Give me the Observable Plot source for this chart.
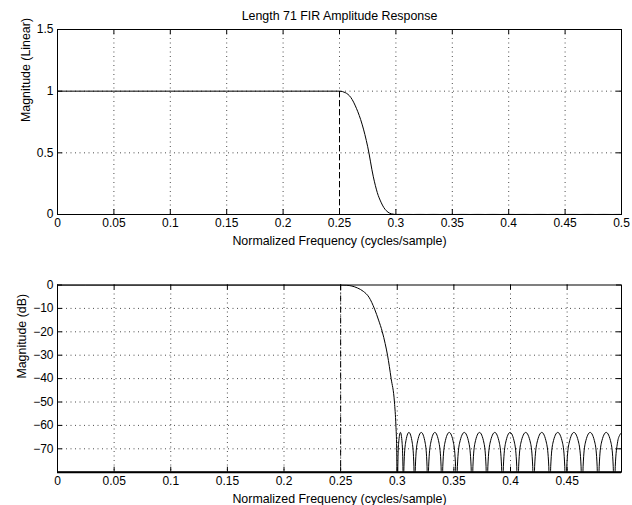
<!DOCTYPE html>
<html>
<head>
<meta charset="utf-8">
<script src="https://cdn.jsdelivr.net/npm/d3@7"></script>
<script src="https://cdn.jsdelivr.net/npm/@observablehq/plot@0.6"></script>
<style>
  body { margin: 0; background: #fff; }
  #chart { width: 632px; height: 505px; font-family: "Liberation Sans", Arial, Helvetica, sans-serif; }
  #chart svg { display: block; }
</style>
</head>
<body>
<div id="chart"></div>
<script>
// Amplitude response of a length-71 lowpass FIR filter (frequency in cycles/sample, magnitude in dB)
const passbandEdge = 0.25;

const passFreq = [0, 0.05, 0.1, 0.15, 0.2, 0.25];
const passDb   = [0, 0, 0, 0, 0, 0];

const transFreq = [0.255, 0.26, 0.265, 0.27, 0.275, 0.28, 0.2835, 0.2868, 0.2893, 0.2914, 0.2946, 0.2975, 0.2988, 0.2995];
const transDb   = [-0.1, -0.45, -1.3, -2.7, -5.2, -10.3, -15, -20, -25, -30, -40, -50, -60, -70];

const stopFreq = [
  0.3002, 0.3005, 0.3012, 0.3028, 0.3043, 0.3050,
  0.3053, 0.3059, 0.3073, 0.3103, 0.3133, 0.3147,
  0.3153, 0.3160, 0.3176, 0.3212, 0.3247, 0.3263,
  0.3270, 0.3277, 0.3295, 0.3332, 0.3369, 0.3387,
  0.3394, 0.3402, 0.3420, 0.3459, 0.3497, 0.3515,
  0.3523, 0.3531, 0.3550, 0.3592, 0.3633, 0.3652,
  0.3660, 0.3668, 0.3686, 0.3726, 0.3766, 0.3784,
  0.3792, 0.3800, 0.3819, 0.3861, 0.3902, 0.3921,
  0.3929, 0.3937, 0.3956, 0.3996, 0.4036, 0.4055,
  0.4063, 0.4072, 0.4091, 0.4134, 0.4177, 0.4196,
  0.4205, 0.4213, 0.4233, 0.4276, 0.4318, 0.4338,
  0.4346, 0.4355, 0.4374, 0.4417, 0.4460, 0.4479,
  0.4488, 0.4497, 0.4517, 0.4560, 0.4603, 0.4623,
  0.4632, 0.4641, 0.4660, 0.4703, 0.4746, 0.4765,
  0.4774, 0.4783, 0.4802, 0.4845, 0.4888, 0.4907,
  0.4916, 0.4925, 0.4944, 0.4966, 0.4987
];
const stopDb = [
  -100, -77.5, -67.6, -63, -67.6, -77.5,
  -100, -77.5, -67.6, -63, -67.6, -77.5,
  -100, -77.5, -67.6, -63, -67.6, -77.5,
  -100, -77.5, -67.6, -63, -67.6, -77.5,
  -100, -77.5, -67.6, -63, -67.6, -77.5,
  -100, -77.5, -67.6, -63, -67.6, -77.5,
  -100, -77.5, -67.6, -63, -67.6, -77.5,
  -100, -77.5, -67.6, -63, -67.6, -77.5,
  -100, -77.5, -67.6, -63, -67.6, -77.5,
  -100, -77.5, -67.6, -63, -67.6, -77.5,
  -100, -77.5, -67.6, -63, -67.6, -77.5,
  -100, -77.5, -67.6, -63, -67.6, -77.5,
  -100, -77.5, -67.6, -63, -67.6, -77.5,
  -100, -77.5, -67.6, -63, -67.6, -77.5,
  -100, -77.5, -67.6, -63, -67.6, -77.5,
  -100, -77.5, -67.6, -64, -63
];

const xTicksTop    = [0, 0.05, 0.1, 0.15, 0.2, 0.25, 0.3, 0.35, 0.4, 0.45, 0.5];
const xTicksBottom = [0, 0.05, 0.1, 0.15, 0.2, 0.25, 0.3, 0.35, 0.4, 0.45];
const yTicksLinear = [0, 0.5, 1, 1.5];
const yTicksDb     = [0, -10, -20, -30, -40, -50, -60, -70];

const titleText    = "Length 71 FIR Amplitude Response";
const xLabelText   = "Normalized Frequency (cycles/sample)";
const yLabelLinear = "Magnitude (Linear)";
const yLabelDb     = "Magnitude (dB)";

// Build one table; the linear panel shows the same response as |H| = 10^(dB/20)
const freq = [...passFreq, ...transFreq, ...stopFreq];
const db   = [...passDb, ...transDb, ...stopDb];
const response = freq.map((f, i) => ({ f, db: db[i], lin: Math.pow(10, db[i] / 20) }));

const font = '"Liberation Sans", Arial, Helvetica, sans-serif';
const minusFormat = d => (d < 0 ? "\u2212" + Math.abs(d) : String(d));
const grid = { stroke: "#000", strokeOpacity: 0.7, strokeWidth: 1, strokeDasharray: "1,3.5" };
const W = 632, ML = 57, MR = 11;
const frameW = W - ML - MR;
const tickLen = 5;

function panel({ height, marginTop, marginBottom, xDomain, yDomain, xTicks, yTicks, yFormat,
                 yKey, yLabel, yLabelDx, edgeRule, edgeDash, title, bottomWidth }) {
  const frameH = height - marginTop - marginBottom;
  const xGrid = xTicks.filter(t => t > xDomain[0] && t < xDomain[1]);
  const yGrid = yTicks.filter(t => t > yDomain[0] && t < yDomain[1]);
  const marks = [
    Plot.ruleX(xGrid, grid),
    Plot.ruleY(yGrid, grid),
    edgeRule,
    Plot.line(response, { x: "f", y: yKey, stroke: "#000", strokeWidth: 1, curve: "monotone-x", clip: true }),
    Plot.frame({ stroke: "#000", strokeWidth: 1 }),
    // inward ticks on all four sides
    Plot.ruleX(xTicks, { insetTop: frameH - tickLen, stroke: "#000" }),
    Plot.ruleX(xTicks, { insetBottom: frameH - tickLen, stroke: "#000" }),
    Plot.ruleY(yTicks, { insetLeft: frameW - tickLen, stroke: "#000" }),
    Plot.ruleY(yTicks, { insetRight: frameW - tickLen, stroke: "#000" }),
    Plot.axisX(xTicks, { tickSize: 0, tickPadding: 4, tickFormat: d => String(d), label: null, fontSize: 12 }),
    Plot.axisY(yTicks, { tickSize: 0, tickPadding: 4, tickFormat: yFormat, label: null, fontSize: 12 }),
    Plot.text([xLabelText], { frameAnchor: "bottom", dy: 27, lineAnchor: "middle", text: d => d, fontSize: 12.4 }),
    Plot.text([yLabel], { frameAnchor: "left", dx: yLabelDx, rotate: -90, lineAnchor: "middle", text: d => d, fontSize: 12.4 })
  ];
  if (bottomWidth) marks.push(Plot.ruleY([yDomain[0]], { stroke: "#000", strokeWidth: bottomWidth }));
  if (title) marks.push(Plot.text([title], { frameAnchor: "top", dy: -13.5, lineAnchor: "middle", text: d => d, fontSize: 12.4 }));
  return Plot.plot({
    width: W, height, marginTop, marginBottom, marginLeft: ML, marginRight: MR,
    style: { fontFamily: font, fontSize: "12px", background: "#fff", color: "#000", overflow: "visible" },
    x: { domain: xDomain },
    y: { domain: yDomain },
    marks
  });
}

const topPanel = panel({
  height: 250, marginTop: 29, marginBottom: 36,
  xDomain: [0, 0.5], yDomain: [0, 1.5],
  xTicks: xTicksTop, yTicks: yTicksLinear, yFormat: d => String(d),
  yKey: "lin", yLabel: yLabelLinear, yLabelDx: -31,
  edgeRule: Plot.ruleX([passbandEdge], { y1: 0, y2: 1, stroke: "#000", strokeWidth: 1, strokeDasharray: "6,3" }),
  title: titleText
});

const bottomPanel = panel({
  height: 255, marginTop: 34.5, marginBottom: 33.3,
  xDomain: [0, 0.498], yDomain: [-80, 0],
  xTicks: xTicksBottom, yTicks: yTicksDb, yFormat: minusFormat,
  yKey: "db", yLabel: yLabelDb, yLabelDx: -35,
  edgeRule: Plot.ruleX([passbandEdge], { stroke: "#000", strokeWidth: 1, strokeDasharray: "6,2,1,2" }),
  bottomWidth: 2
});

const chart = document.getElementById("chart");
chart.append(topPanel, bottomPanel);
</script>
</body>
</html>
